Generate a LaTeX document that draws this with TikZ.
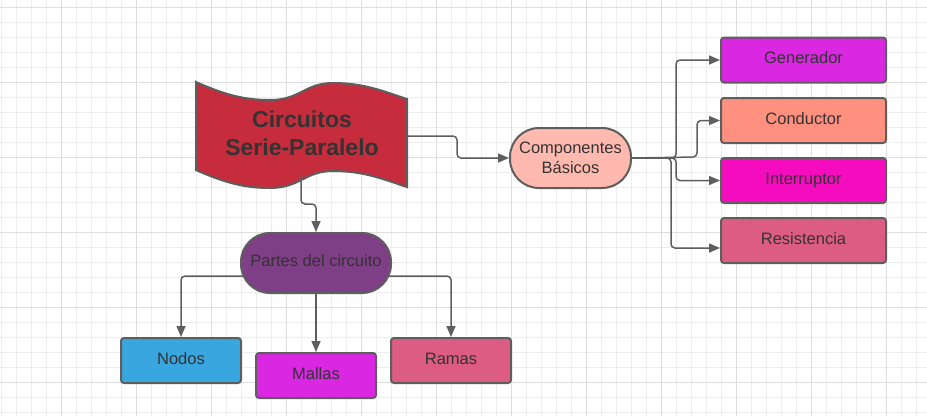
\documentclass[tikz,border=0pt]{standalone}
\usepackage{fontspec}
\setmainfont{Liberation Sans}
\usetikzlibrary{arrows.meta}
\definecolor{borde}{HTML}{5E5E5E}
\definecolor{texto}{HTML}{333333}
\definecolor{rojo}{HTML}{C62C3B}
\definecolor{salmonclaro}{HTML}{FFB9AF}
\definecolor{violeta}{HTML}{D927E2}
\definecolor{salmon}{HTML}{FF8F7F}
\definecolor{fucsia}{HTML}{F50CBE}
\definecolor{rosa}{HTML}{DD5C83}
\definecolor{morado}{HTML}{7F3F87}
\definecolor{azul}{HTML}{39A6DF}
\begin{document}
\begin{tikzpicture}[x=1pt, y=-1pt,
        every node/.style = {text=texto, align=center,
        font=\fontsize{16.5}{20}\selectfont},
        caja/.style = {draw=borde, line width=2pt, rounded corners=3pt,
        minimum height=45pt, inner sep=0pt, text height=12pt, text depth=5pt},
        capsula/.style = {draw=borde, line width=2pt, rounded corners=29pt,
        minimum height=60pt, inner sep=0pt},
        conector/.style = {draw=borde, line width=1.5pt, rounded corners=4pt,
        -{Triangle[length=11pt,width=9pt]}},
        menor/.style = {draw=black!7, line width=0.8pt},
        mayor/.style = {draw=black!13, line width=0.8pt}]
    \fill[white] (0,0) rectangle (927,416);
    \useasboundingbox (0,0) rectangle (927,416);
    \foreach \x in {1.7,16.7,...,926.7} \draw[menor] (\x,0) -- (\x,416);
    \foreach \y in {7.3,22.3,...,415} \draw[menor] (0,\y) -- (927,\y);
    \foreach \x in {61.7,136.7,...,926.7} \draw[mayor] (\x,0) -- (\x,416);
    \foreach \y in {7.3,82.3,...,415} \draw[mayor] (0,\y) -- (927,\y);

    \draw[borde, line width=2pt, fill=rojo] (196,82)
        .. controls (225,95) and (245,100) .. (270,100)
        .. controls (300,100) and (305,83) .. (333,83)
        .. controls (365,83) and (385,92) .. (407,99) -- (407,187)
        .. controls (385,180) and (365,171) .. (333,171)
        .. controls (305,171) and (300,188) .. (270,188)
        .. controls (245,188) and (225,183) .. (196,170) -- cycle;
    \node[font=\fontsize{23}{28}\selectfont\bfseries] (titulo) at (302,133)
        {Circuitos\\Serie-Paralelo};
    \coordinate (titulo-der) at (407,136);
    \coordinate (titulo-abajo) at (301,173);

    \node[capsula, fill=salmonclaro, minimum width=121pt] (componentes)
        at (570.5,158) {Componentes\\Básicos};
    \node[caja, fill=violeta, minimum width=165pt] (generador)
        at (803.5,60) {Generador};
    \node[caja, fill=salmon, minimum width=165pt] (conductor)
        at (803.5,120.5) {Conductor};
    \node[caja, fill=fucsia, minimum width=165pt] (interruptor)
        at (803.5,180.5) {Interruptor};
    \node[caja, fill=rosa, minimum width=165pt] (resistencia)
        at (803.5,240.5) {Resistencia};

    \node[capsula, fill=morado, minimum width=150pt,
        text height=12pt, text depth=5pt] (partes)
        at (316,263) {Partes del circuito};
    \node[caja, fill=azul, minimum width=120pt] (nodos)
        at (181,360.5) {Nodos};
    \node[caja, fill=violeta, minimum width=120pt] (mallas)
        at (316,375.5) {Mallas};
    \node[caja, fill=rosa, minimum width=120pt] (ramas)
        at (451,360.5) {Ramas};

    \draw[conector] (titulo-der) -- (457,136) |- (componentes.west);
    \draw[conector] (componentes.east) -- (676,158) |- (generador.west);
    \draw[conector] (componentes.east) -- (697,157) |- (conductor.west);
    \draw[conector] (componentes.east) -- (676,158) |- (interruptor.west);
    \draw[conector] (componentes.east) -- (671,158)
        |- ([yshift=-7.5pt]resistencia.west);
    \draw[conector] (titulo-abajo) -- (301,204) -| (partes.north);
    \draw[conector] ([xshift=3pt,yshift=-13pt]partes.west) -| (nodos.north);
    \draw[conector] (partes.south) -- (mallas.north);
    \draw[conector] ([xshift=-3pt,yshift=-13pt]partes.east) -| (ramas.north);
\end{tikzpicture}
\end{document}
